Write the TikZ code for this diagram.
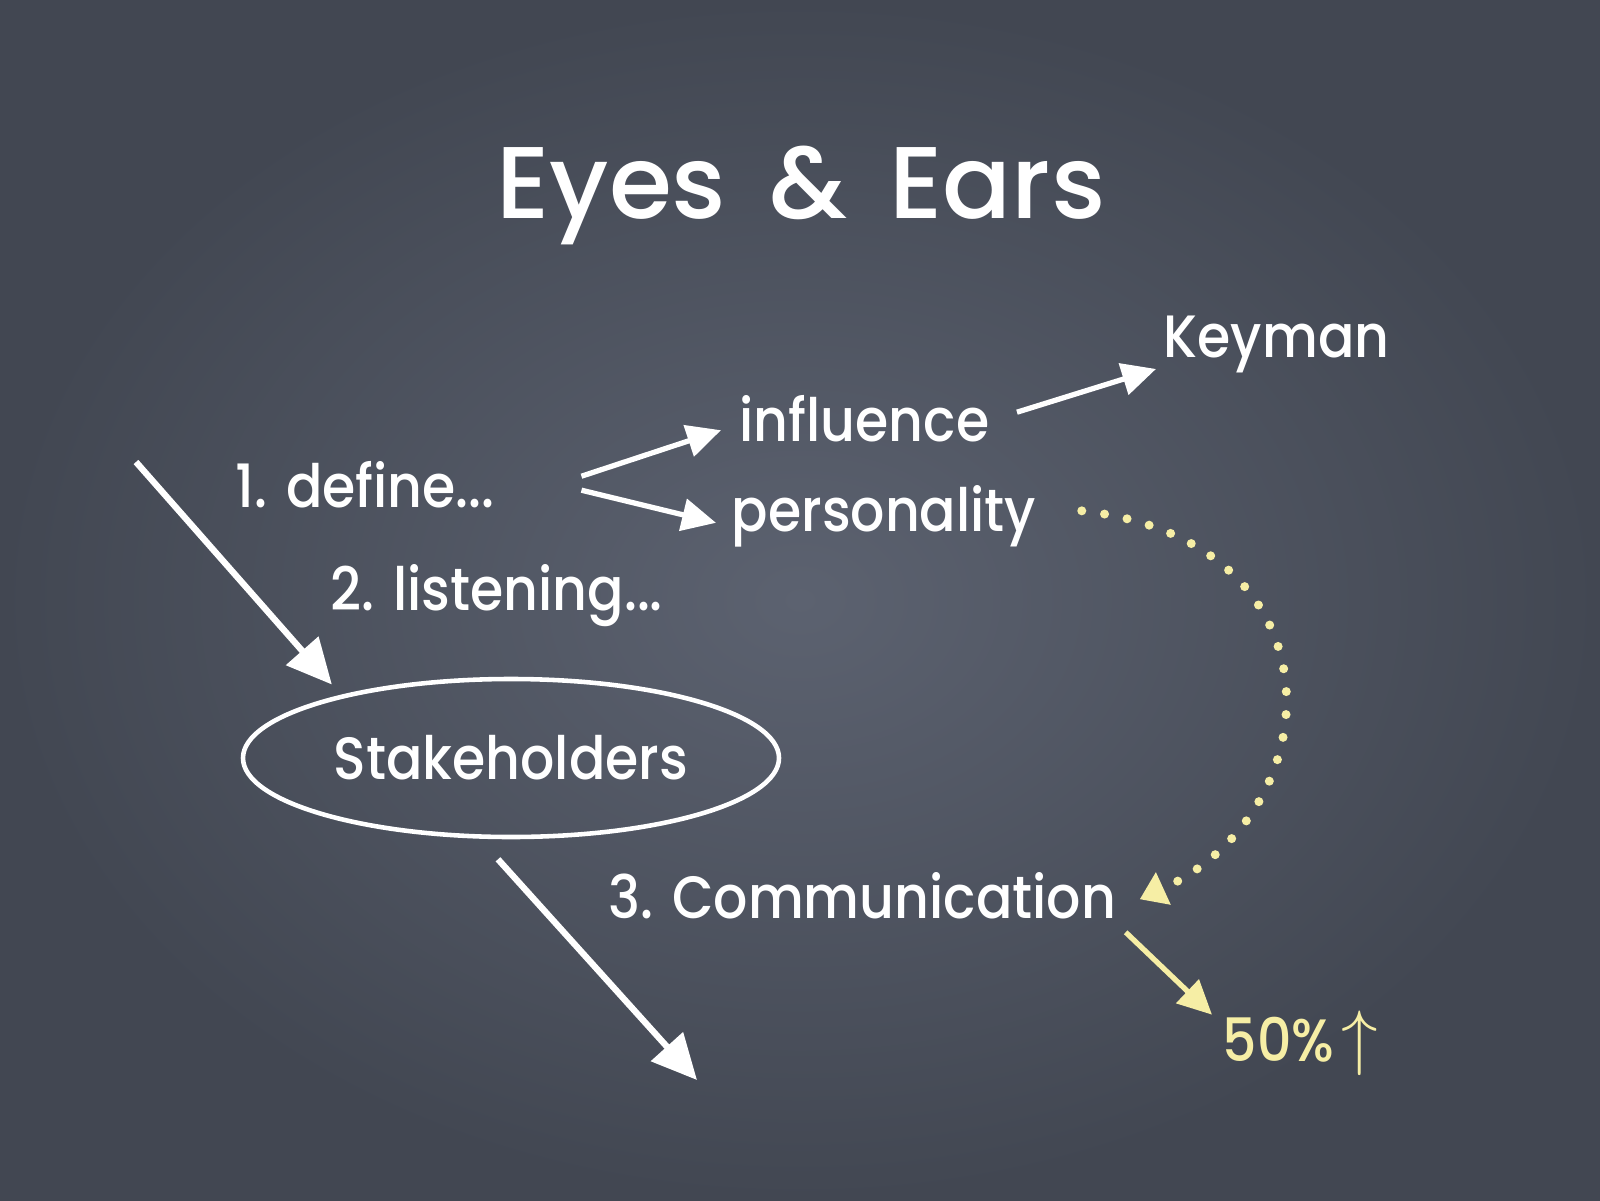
\documentclass[tikz,border=0pt]{standalone}
\usepackage{fontspec}
\setmainfont{Poppins}
\newfontfamily\chalk[FakeStretch=0.9]{Poppins Medium}
\newfontfamily\titlefont{Poppins Medium}
\usetikzlibrary{arrows.meta,positioning,shapes.geometric}
\definecolor{board}{RGB}{92,98,112}
\definecolor{boardedge}{RGB}{66,71,82}
\definecolor{chalkyellow}{RGB}{246,238,165}

\begin{document}
\begin{tikzpicture}[
  txt/.style={text=white, font=\chalk\fontsize{17}{21}\selectfont, inner sep=0pt, anchor=base west},
  ytxt/.style={txt, text=chalkyellow},
  oval/.style={draw=white, ellipse, line width=1.3pt, inner sep=0pt, minimum width=5.36cm,
    minimum height=1.58cm, text=white, font=\chalk\fontsize{17}{21}\selectfont},
  arr/.style={-{Triangle[length=4.5mm,width=4.2mm]}, white, line width=1.8pt},
  small arr/.style={-{Triangle[length=3.4mm,width=3.2mm]}, white, line width=1.5pt},
  yarr/.style={small arr, chalkyellow},
  dots/.style={-{Triangle[length=2.6mm,width=3.4mm]}, chalkyellow, line width=0.09cm,
    line cap=round, dash pattern=on 0pt off 0.23cm}
]
  \shade[inner color=board, outer color=boardedge] (0,0) rectangle (16,12);
  \useasboundingbox (0,0) rectangle (16,12);

  \node[txt, anchor=base, font=\titlefont\fontsize{29}{34}\selectfont] (title) at (8.01,9.81)
    {Eyes\hspace{0.42em}\&\hspace{0.42em}Ears};
  \node[txt] (keyman) at (11.63,8.43) {Keyman};
  \node[txt] (influence) at (7.39,7.59) {influence};
  \node[txt] (personality) at (7.31,6.69) {personality};
  \node[txt] (define) at (2.35,6.93) {1. define...};
  \node[txt] (listening) at (3.30,5.90) {2. listening...};
  \node[oval] (stake) at (5.11,4.42) {Stakeholders};
  \node[txt] (comm) at (6.08,2.82) {3. Communication};
  \node[ytxt] (fifty) at (12.22,1.39) {50\%\hspace{2pt}{\fontsize{20}{20}\selectfont$\uparrow$}};

  \coordinate (in) at (1.36,7.38);
  \coordinate (out) at (6.97,1.20);

  \draw[arr] (in) -- ([shift={(0.12,0.16)}]stake.north west);
  \draw[arr] ([shift={(-0.13,-0.2)}]stake.south) -- (out);
  \draw[small arr] ([shift={(0.86,0.08)}]define.east) -- ([shift={(-0.18,-0.12)}]influence.west);
  \draw[small arr] ([shift={(0.86,-0.06)}]define.east) -- ([shift={(-0.15,-0.07)}]personality.west);
  \draw[small arr] ([shift={(0.27,0.06)}]influence.east) -- ([shift={(-0.07,-0.25)}]keyman.west);
  \draw[dots] ([shift={(0.45,0.05)}]personality.east) .. controls (13.45,6.6) and (13.35,3.9)
    .. ([shift={(0.23,-0.04)}]comm.east);
  \draw[yarr] ([shift={(0.09,-0.37)}]comm.east) -- ([shift={(-0.1,-0.05)}]fifty.north west);
\end{tikzpicture}
\end{document}
